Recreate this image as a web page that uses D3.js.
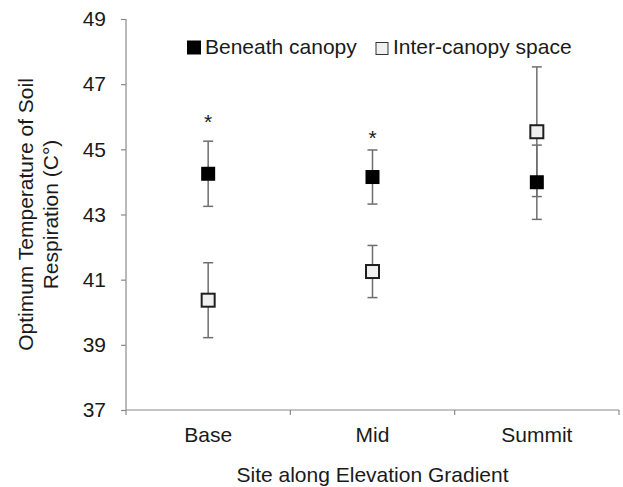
<!DOCTYPE html>
<html>
<head>
<meta charset="utf-8">
<script src="https://cdn.jsdelivr.net/npm/d3@7"></script>
<style>
  body { margin: 0; background: #fff; }
  text { font-family: "Liberation Sans", Arial, sans-serif; fill: #1a1a1a; }
</style>
</head>
<body>
<div id="chart_box"></div>
<script>
// data
var sites = ["Base", "Mid", "Summit"];
var beneathMean = [44.25, 44.15, 43.99];
var beneathErr  = [1.00, 0.83, 1.14];
var interMean   = [40.37, 41.25, 45.54];
var interErr    = [1.15, 0.80, 1.99];
var starLabels  = ["*", "*", ""];
var starLevels  = [46.0, 45.5, null];
var yTicks      = [37, 39, 41, 43, 45, 47, 49];
var seriesNames = ["Beneath canopy", "Inter-canopy space"];

var width = 623, height = 487;
var margin = {top: 19, right: 4, bottom: 77, left: 126};

var svg = d3.select("#chart_box").append("svg")
    .attr("width", width)
    .attr("height", height);

var x = d3.scaleBand().domain(sites).range([margin.left, width - margin.right]);
var y = d3.scaleLinear().domain([37, 49]).range([height - margin.bottom, margin.top]);

var axisColor = "#8a8a8a";

// y axis
var yAxis = svg.append("g")
    .attr("transform", "translate(" + margin.left + ",0)")
    .call(d3.axisLeft(y).tickValues(yTicks).tickSize(5).tickPadding(15).tickFormat(d3.format("d")));
yAxis.select(".domain").remove();
yAxis.selectAll(".tick line").attr("stroke", axisColor).attr("stroke-width", 1.2);
yAxis.selectAll(".tick text").style("font-size", "21px").attr("fill", "#1a1a1a");
svg.append("line")
    .attr("x1", margin.left).attr("x2", margin.left)
    .attr("y1", y(49)).attr("y2", y(37))
    .attr("stroke", axisColor).attr("stroke-width", 1.2);

// x axis (ticks between categories, Excel style)
var xAxisY = y(37);
svg.append("line")
    .attr("x1", margin.left).attr("x2", width - margin.right)
    .attr("y1", xAxisY).attr("y2", xAxisY)
    .attr("stroke", axisColor).attr("stroke-width", 1.2);
var bounds = sites.map(function(s) { return x(s); }).concat([x(sites[sites.length - 1]) + x.bandwidth()]);
svg.selectAll(".xtick").data(bounds).enter().append("line")
    .attr("class", "xtick")
    .attr("x1", function(d) { return d; }).attr("x2", function(d) { return d; })
    .attr("y1", xAxisY).attr("y2", xAxisY + 5)
    .attr("stroke", axisColor).attr("stroke-width", 1.2);
svg.selectAll(".xlabel").data(sites).enter().append("text")
    .attr("class", "xlabel")
    .attr("x", function(d) { return x(d) + x.bandwidth() / 2; })
    .attr("y", xAxisY + 32)
    .attr("text-anchor", "middle")
    .style("font-size", "21px")
    .text(function(d) { return d; });

// axis titles
svg.append("text")
    .attr("x", (margin.left + width - margin.right) / 2)
    .attr("y", 482)
    .attr("text-anchor", "middle")
    .style("font-size", "21px")
    .text("Site along Elevation Gradient");

var midY = (y(37) + y(49)) / 2;
var ytitle = svg.append("text")
    .attr("transform", "translate(33," + midY + ") rotate(-90)")
    .attr("text-anchor", "middle")
    .style("font-size", "21px");
ytitle.append("tspan").attr("x", 0).attr("dy", 0).text("Optimum Temperature of Soil");
ytitle.append("tspan").attr("x", 0).attr("dy", 25).text("Respiration (C\u00b0)");

// build rows for drawing
var rows = sites.map(function(s, i) {
  return {site: s, bm: beneathMean[i], be: beneathErr[i], im: interMean[i], ie: interErr[i],
          star: starLabels[i], starAt: starLevels[i]};
});

var errColor = "#6e6e6e";
var capHalf = 5;

function drawErr(sel, meanKey, errKey) {
  var g = sel.append("g");
  g.append("line")
    .attr("x1", function(d) { return x(d.site) + x.bandwidth() / 2; })
    .attr("x2", function(d) { return x(d.site) + x.bandwidth() / 2; })
    .attr("y1", function(d) { return y(d[meanKey] + d[errKey]); })
    .attr("y2", function(d) { return y(d[meanKey] - d[errKey]); })
    .attr("stroke", errColor).attr("stroke-width", 1.5);
  [1, -1].forEach(function(sgn) {
    g.append("line")
      .attr("x1", function(d) { return x(d.site) + x.bandwidth() / 2 - capHalf; })
      .attr("x2", function(d) { return x(d.site) + x.bandwidth() / 2 + capHalf; })
      .attr("y1", function(d) { return y(d[meanKey] + sgn * d[errKey]); })
      .attr("y2", function(d) { return y(d[meanKey] + sgn * d[errKey]); })
      .attr("stroke", errColor).attr("stroke-width", 1.5);
  });
}

var pts = svg.selectAll(".site").data(rows).enter().append("g").attr("class", "site");
drawErr(pts, "im", "ie");
drawErr(pts, "bm", "be");

// inter-canopy squares (open)
pts.append("rect")
    .attr("x", function(d) { return x(d.site) + x.bandwidth() / 2 - 6.5; })
    .attr("y", function(d) { return y(d.im) - 6.5; })
    .attr("width", 13).attr("height", 13)
    .attr("fill", "#f0f0f0").attr("stroke", "#1e1e1e").attr("stroke-width", 2);

// beneath canopy squares (filled)
pts.append("rect")
    .attr("x", function(d) { return x(d.site) + x.bandwidth() / 2 - 7; })
    .attr("y", function(d) { return y(d.bm) - 7; })
    .attr("width", 14).attr("height", 14)
    .attr("fill", "#000");

// significance stars
pts.filter(function(d) { return d.star; }).append("text")
    .attr("x", function(d) { return x(d.site) + x.bandwidth() / 2; })
    .attr("y", function(d) { return y(d.starAt) + 12; })
    .attr("text-anchor", "middle")
    .style("font-size", "21px")
    .text(function(d) { return d.star; });

// legend
var legend = svg.append("g").attr("class", "legend");
var legX = [187, 375];
legend.selectAll(".key").data(seriesNames).enter().append("rect")
    .attr("class", "key")
    .attr("x", function(d, i) { return i === 0 ? legX[i] : legX[i] + 1; })
    .attr("y", function(d, i) { return i === 0 ? 40.5 : 42.5; })
    .attr("width", function(d, i) { return i === 0 ? 14 : 12; })
    .attr("height", function(d, i) { return i === 0 ? 14 : 12; })
    .attr("fill", function(d, i) { return i === 0 ? "#000" : "#f0f0f0"; })
    .attr("stroke", function(d, i) { return i === 0 ? "none" : "#333"; })
    .attr("stroke-width", 1);
legend.selectAll(".keytext").data(seriesNames).enter().append("text")
    .attr("class", "keytext")
    .attr("x", function(d, i) { return legX[i] + 18; })
    .attr("y", 54)
    .style("font-size", "21px")
    .text(function(d) { return d; });
</script>
</body>
</html>
